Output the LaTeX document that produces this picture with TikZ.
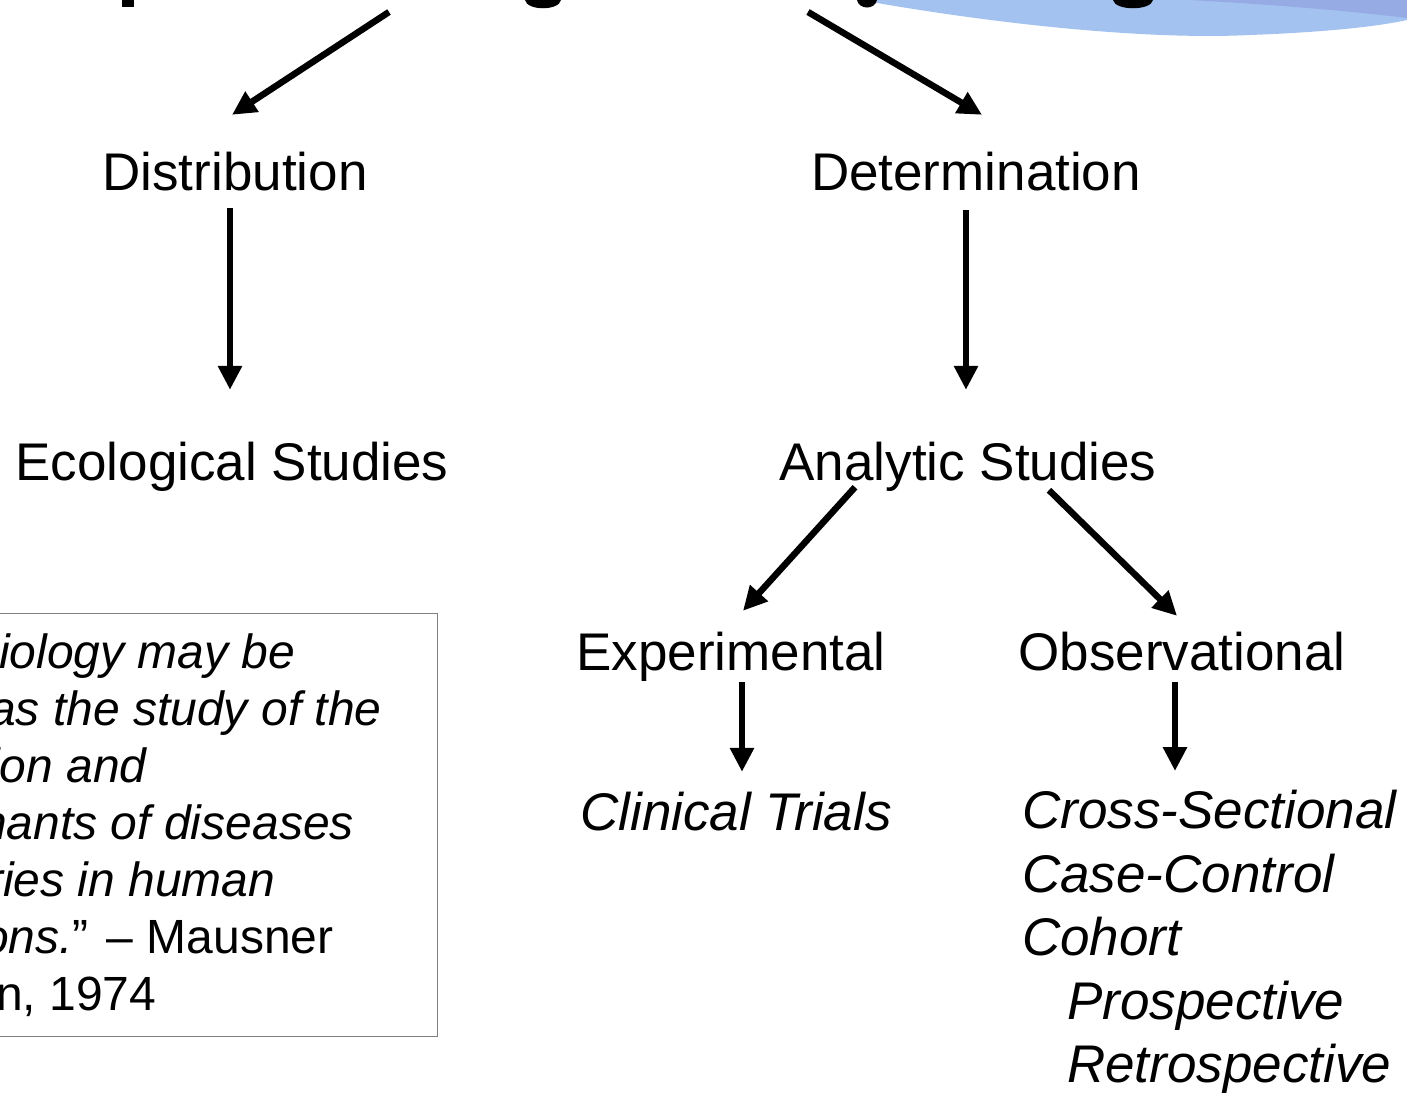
\documentclass[tikz,border=0pt]{standalone}
\usepackage{fontspec}
\setmainfont{Liberation Sans}
\usetikzlibrary{arrows.meta}
\definecolor{swooshlight}{RGB}{164,194,240}
\definecolor{swooshdark}{RGB}{150,170,228}
\definecolor{boxgray}{RGB}{128,128,128}
\tikzset{
  lbl/.style={font=\fontsize{53}{63.5}\selectfont, inner sep=0pt, text height=40pt, text depth=12pt, anchor=base},
  arr/.style={line width=6.5pt, -{Triangle[length=24pt,width=23pt]}},
}

\begin{document}
\begin{tikzpicture}[x=1pt,y=-1pt]
\useasboundingbox (0,0) rectangle (1407,1093);
\clip (0,0) rectangle (1407,1093);
\fill[white] (0,0) rectangle (1407,1093);
\fill[swooshlight] (860,0) .. controls (1000,25) and (1150,40) .. (1250,35) .. controls (1330,32) and (1380,26) .. (1407,20) -- (1407,0) -- cycle;
\fill[swooshdark] (1190,0) .. controls (1280,5) and (1350,11) .. (1407,18) -- (1407,0) -- cycle;
\fill (122,0) rectangle (134,7);
\fill (525,0) .. controls (527,11) and (559,11) .. (561,0) -- cycle;
\fill (857,0) .. controls (859,10) and (875,10) .. (877,0) -- cycle;
\fill (1113,0) .. controls (1115,11) and (1151,11) .. (1153,0) -- cycle;
\coordinate (ttlL) at (389,12);
\coordinate (ttlR) at (808,12);
\node[lbl] (dist) at (235,190) {Distribution};
\node[lbl] (det) at (976,190) {Determination};
\node[lbl] (eco) at (232,480) {Ecological Studies};
\node[lbl] (ana) at (968,480) {Analytic Studies};
\node[lbl] (expm) at (731,670) {Experimental};
\node[lbl] (obs) at (1182,670) {Observational};
\node[lbl, font=\fontsize{53}{63.5}\selectfont\itshape] (clin) at (736,830) {Clinical Trials};
\node[anchor=north west, inner sep=0pt, align=left, font=\fontsize{53}{63.5}\selectfont\itshape] (obslist) at (1022,790)
  {Cross-Sectional\\Case-Control\\Cohort\\\hspace*{45pt}Prospective\\\hspace*{45pt}Retrospective};
\node[draw=boxgray, line width=1.3pt, anchor=north east, minimum width=460pt, minimum height=423pt, inner sep=0pt] (quote) at (438,613) {};
\node[anchor=north west, inner sep=0pt, align=left, font=\fontsize{48}{57}\selectfont] (quotetxt) at (-3,634)
  {\hspace*{2pt}\textit{iology may be}\\\hspace*{-8pt}\textit{as the study of the}\\\hspace*{-8pt}\textit{ion and}\\
   \hspace*{-17pt}\textit{nants of diseases}\\\hspace*{-10pt}\textit{ries in human}\\\hspace*{-15pt}\textit{ons.}” – Mausner\\\hspace*{-1pt}n, 1974};
\draw[arr] (ttlL) -- ([shift={(-3pt,35pt)}]dist.north);
\draw[arr] (ttlR) -- ([shift={(6pt,35pt)}]det.north);
\draw[arr, shorten <=6pt, shorten >=50pt] ([xshift=-5pt]dist.south) -- ([xshift=-5pt]dist.south |- eco.north);
\draw[arr, shorten <=8pt, shorten >=50pt] ([xshift=-10pt]det.south) -- ([xshift=-10pt]det.south |- ana.north);
\draw[arr] ([shift={(-113pt,5pt)}]ana.south) -- ([shift={(12pt,19pt)}]expm.north);
\draw[arr] ([shift={(81pt,2pt)}]ana.south) -- ([shift={(-5pt,14pt)}]obs.north);
\draw[arr, shorten >=18pt] ([xshift=11pt]expm.south) -- ([xshift=11pt]expm.south |- clin.north);
\draw[arr, shorten >=19pt] ([xshift=-7pt]obs.south) -- ([xshift=-7pt]obs.south |- obslist.north);
\end{tikzpicture}
\end{document}
